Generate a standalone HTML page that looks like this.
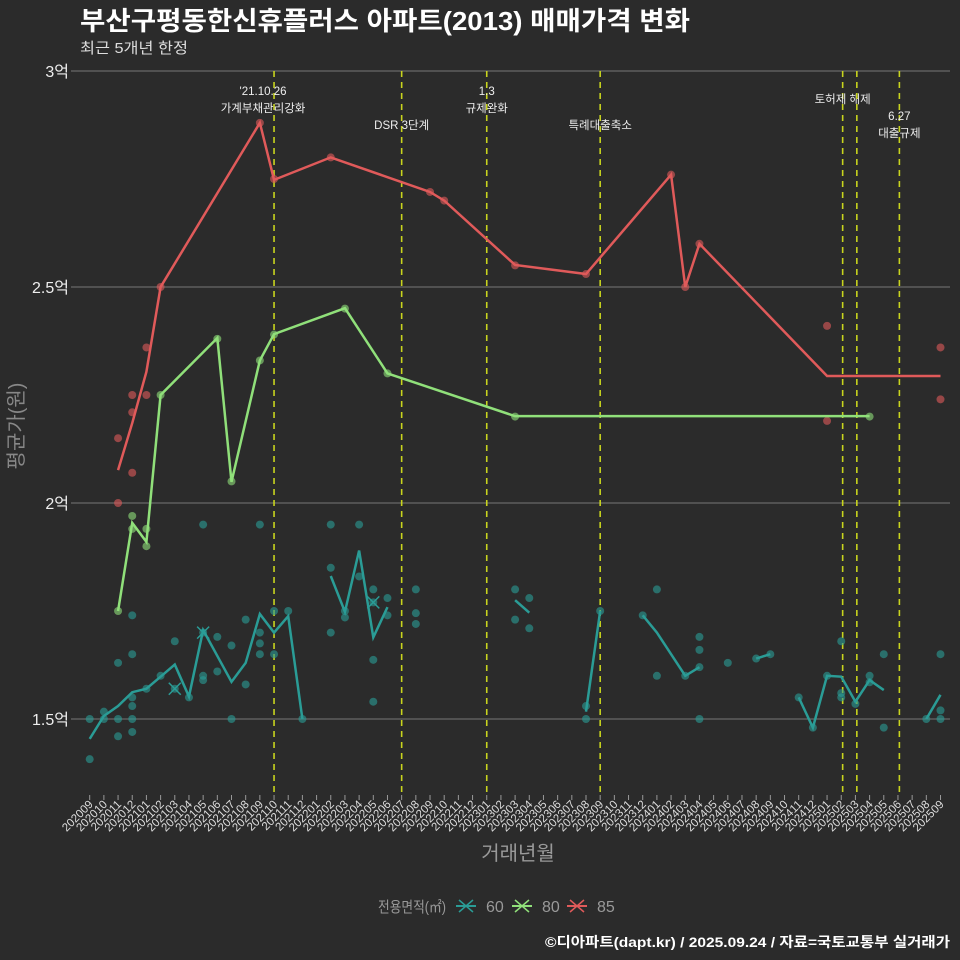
<!DOCTYPE html>
<html><head><meta charset="utf-8">
<style>
html,body{margin:0;padding:0;background:#2b2b2b;}
svg{display:block;font-family:"Liberation Sans","Noto Sans CJK KR",sans-serif;}
</style></head>
<body>
<svg id="chart" width="960" height="960" xmlns="http://www.w3.org/2000/svg">
<rect width="960" height="960" fill="#2b2b2b"/>
<text x="80" y="30" fill="#ffffff" font-size="26" font-weight="bold" textLength="610" lengthAdjust="spacingAndGlyphs">부산구평동한신휴플러스 아파트(2013) 매매가격 변화</text>
<text x="80" y="53" fill="#dddddd" font-size="15" textLength="108" lengthAdjust="spacingAndGlyphs">최근 5개년 한정</text>
<g id="grid"></g>
<g id="events"></g>
<g id="marks"></g>
<g id="xaxis"></g>
<text x="518" y="860" fill="#999" font-size="20" text-anchor="middle">거래년월</text>
<text transform="translate(23,426) rotate(-90)" fill="#888" font-size="20" text-anchor="middle">평균가(원)</text>
<g>
<text x="378" y="912" fill="#999" font-size="15" textLength="68" lengthAdjust="spacingAndGlyphs">전용면적(㎡)</text>
<g><line x1="456" y1="906" x2="476" y2="906" stroke="#2a9c96" stroke-width="2"/><path d="M459 900 L473 912 M473 900 L459 912" stroke="#2a9c96" stroke-width="1.5"/><text x="486" y="912" fill="#999" font-size="16">60</text></g>
<g><line x1="512" y1="906" x2="532" y2="906" stroke="#90e07a" stroke-width="2"/><path d="M515 900 L529 912 M529 900 L515 912" stroke="#90e07a" stroke-width="1.5"/><text x="542" y="912" fill="#999" font-size="16">80</text></g>
<g><line x1="567" y1="906" x2="587" y2="906" stroke="#e05a5a" stroke-width="2"/><path d="M570 900 L584 912 M584 900 L570 912" stroke="#e05a5a" stroke-width="1.5"/><text x="597" y="912" fill="#999" font-size="16">85</text></g>
</g>
<text x="950" y="947" fill="#ffffff" font-size="14" font-weight="bold" text-anchor="end" textLength="405" lengthAdjust="spacingAndGlyphs">©디아파트(dapt.kr) / 2025.09.24 / 자료=국토교통부 실거래가</text>
</svg>
<script>
const months = [];
for (let y = 2020, m = 9; months.length < 61; ) { months.push(y + String(m).padStart(2, '0')); m++; if (m > 12) { m = 1; y++; } }
const yTicks = [1.5, 2, 2.5, 3];
const yTickLabels = ['1.5억', '2억', '2.5억', '3억'];
const line60 = [1.454,1.507,1.53,1.562,1.57,1.598,1.626,1.552,1.706,1.646,1.586,1.63,1.743,1.70,1.738,1.50,null,1.831,1.748,1.89,1.689,1.759,null,null,null,null,null,null,null,null,1.775,1.746,null,null,null,1.517,1.75,null,null,1.74,1.70,1.65,1.60,1.62,null,null,null,1.64,1.65,null,1.55,1.48,1.60,1.598,1.54,1.59,1.567,null,null,1.50,1.556];
const idx80 = [2,3,4,5,9,10,12,13,18,21,30,55];
const line80 = [1.75,1.954,1.91,2.25,2.382,2.049,2.33,2.391,2.451,2.30,2.201,2.201];
const idx85 = [2,3,4,5,12,13,17,24,25,30,35,41,42,43,52,60];
const line85 = [2.076,2.185,2.304,2.5,2.88,2.748,2.80,2.72,2.70,2.551,2.53,2.76,2.5,2.60,2.294,2.294];
const dots60i = [0,0,1,1,2,2,2,3,3,3,3,3,3,4,5,6,6,7,8,8,8,8,9,9,10,10,11,11,12,12,12,12,13,13,14,15,17,17,17,18,18,19,19,20,20,20,20,21,21,23,23,23,30,30,31,31,35,35,36,39,40,40,42,43,43,43,43,45,47,48,50,51,52,53,53,53,54,55,55,56,56,59,60,60,60];
const dots60v = [1.5,1.407,1.517,1.5,1.63,1.5,1.46,1.74,1.65,1.55,1.53,1.5,1.47,1.57,1.6,1.68,1.57,1.55,1.95,1.70,1.6,1.59,1.69,1.61,1.67,1.5,1.73,1.58,1.95,1.70,1.675,1.65,1.75,1.65,1.75,1.5,1.95,1.85,1.70,1.75,1.735,1.95,1.83,1.80,1.77,1.637,1.54,1.78,1.74,1.80,1.745,1.72,1.80,1.73,1.78,1.71,1.53,1.5,1.75,1.74,1.80,1.60,1.60,1.69,1.66,1.62,1.5,1.63,1.64,1.65,1.55,1.48,1.60,1.68,1.56,1.55,1.535,1.60,1.585,1.65,1.48,1.5,1.65,1.52,1.5];
const dots80i = [2,3,3,4,4,5,9,10,12,13,18,21,30,55];
const dots80v = [1.75,1.97,1.94,1.94,1.90,2.25,2.38,2.05,2.33,2.39,2.45,2.30,2.20,2.20];
const dots85i = [2,2,3,3,3,4,4,5,12,13,17,24,25,30,35,41,42,43,52,52,60,60];
const dots85v = [2.0,2.15,2.25,2.21,2.07,2.25,2.36,2.5,2.88,2.75,2.80,2.72,2.70,2.55,2.53,2.76,2.5,2.6,2.41,2.19,2.36,2.24];
const crossI = [6,8,20];
const crossV = [1.57,1.70,1.77];
const eventPos = [13,22,28,36,53.1,54.1,57.1];
const eventLabels = [["'21.10.26","가계부채관리강화"],["","DSR 3단계"],["1.3","규제완화"],["","특례대출축소"],["토허제 해제"],[],["6.27","대출규제"]];

const X = i => 89.7 + 14.18 * i;
const Y = v => 719 - (v - 1.5) * 432;
const NS = 'http://www.w3.org/2000/svg';
function mk(tag, attrs, parent) { const e = document.createElementNS(NS, tag); for (const k in attrs) e.setAttribute(k, attrs[k]); parent.appendChild(e); return e; }
const grid = document.getElementById('grid'), ev = document.getElementById('events'), marks = document.getElementById('marks'), xa = document.getElementById('xaxis');

yTicks.forEach((t, k) => {
  const g = mk('line', {x1: 76, x2: 950, y1: Y(t), y2: Y(t), stroke: '#777', 'stroke-width': 1}, grid);
  
  
  mk('line', {x1: 71, x2: 76, y1: Y(t), y2: Y(t), stroke: '#777'}, grid);
  const tx = mk('text', {x: 69, y: Y(t) + 6, fill: '#eee', 'font-size': 16, 'text-anchor': 'end'}, grid);
  tx.textContent = yTickLabels[k];
  
  
});

months.forEach((m, i) => {
  mk('line', {x1: X(i), x2: X(i), y1: 795, y2: 800, stroke: '#999'}, xa);
  const t = mk('text', {transform: `translate(${X(i)+4},${805}) rotate(-45)`, fill: '#ddd', 'font-size': 11.5, 'text-anchor': 'end'}, xa);
  t.textContent = m;
  
  
});

eventPos.forEach((p, k) => {
  const l = mk('line', {x1: X(p), x2: X(p), y1: 71, y2: 795, stroke: '#c8d41e', 'stroke-width': 1.6, 'stroke-dasharray': '6,5'}, ev);
  
  
  const labs = eventLabels[k];
  let ys;
  if (k === 1 || k === 3) ys = [91, 125];
  else if (k === 4) ys = [99];
  else if (k === 6) ys = [116, 133];
  else ys = [91, 108];
  labs.forEach((s, j) => {
    if (!s) return;
    const cx = k === 0 ? X(p) - 11 : X(p);
    const t = mk('text', {x: cx, y: ys[j] + 4, fill: '#eee', 'font-size': 11.5, 'text-anchor': 'middle'}, ev);
    t.textContent = s;
    
    
  });
});

function dots(is, vs, color, name) {
  is.forEach((i, k) => {
    const c = mk('circle', {cx: X(i), cy: Y(vs[k]), r: 4, fill: color, 'fill-opacity': 0.6}, marks);
    
    
  });
}
dots(dots60i, dots60v, '#2a9c96', 'dot-60');
dots(dots80i, dots80v, '#90e07a', 'dot-80');
dots(dots85i, dots85v, '#e05a5a', 'dot-85');

crossI.forEach((i, k) => {
  const x = X(i), y = Y(crossV[k]);
  const c = mk('path', {d: `M${x-6} ${y-6} L${x+6} ${y+6} M${x+6} ${y-6} L${x-6} ${y+6}`, stroke: '#2a9c96', 'stroke-width': 1.5}, marks);
  
  
});

let seg = [];
const segs = [];
line60.forEach((v, i) => { if (v == null) { if (seg.length) segs.push(seg); seg = []; } else seg.push([X(i), Y(v)]); });
if (seg.length) segs.push(seg);
segs.forEach(s => {
  if (s.length < 2) return;
  const p = mk('polyline', {points: s.map(q => q.join(',')).join(' '), fill: 'none', stroke: '#2a9c96', 'stroke-width': 2.5}, marks);
  
  
});
const p80 = mk('polyline', {points: idx80.map((i, k) => X(i) + ',' + Y(line80[k])).join(' '), fill: 'none', stroke: '#90e07a', 'stroke-width': 2.5}, marks);


const p85 = mk('polyline', {points: idx85.map((i, k) => X(i) + ',' + Y(line85[k])).join(' '), fill: 'none', stroke: '#e05a5a', 'stroke-width': 2.5}, marks);


</script>
</body></html>
